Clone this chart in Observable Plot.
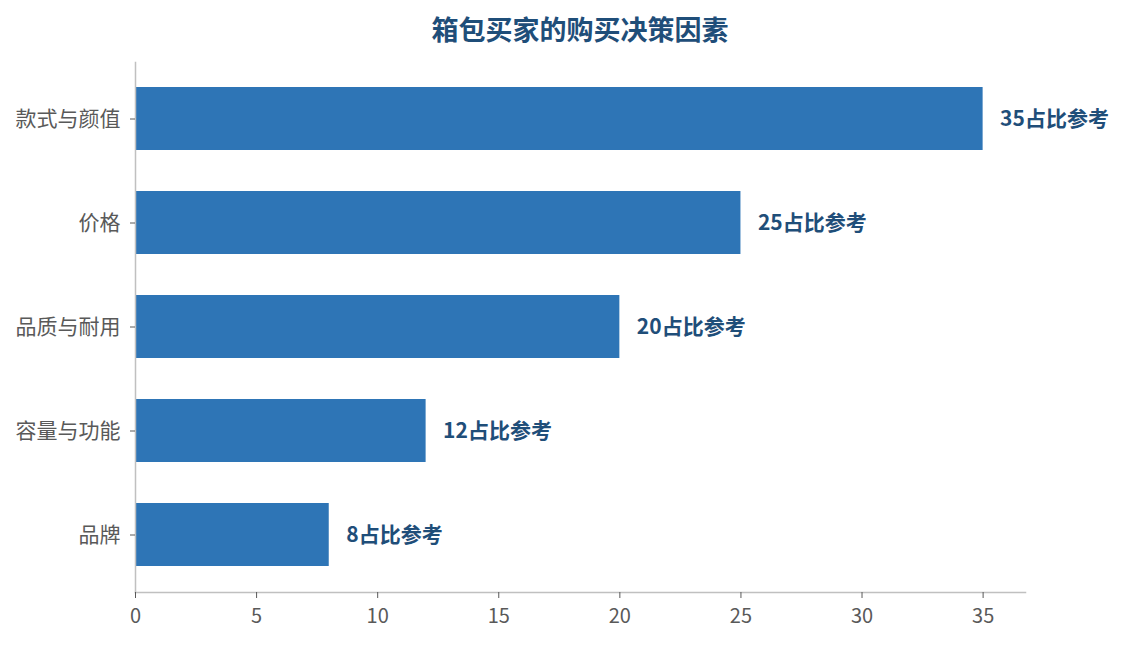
<!DOCTYPE html>
<html>
<head>
<meta charset="utf-8">
<script src="https://cdn.jsdelivr.net/npm/d3@7"></script>
<script src="https://cdn.jsdelivr.net/npm/@observablehq/plot@0.6"></script>
<style>
  body { margin: 0; background: #fff; font-family: "Noto Sans CJK SC", "Noto Sans", sans-serif; }
  #title { height: 48px; text-align: center; font-size: 27px; font-weight: bold; color: #1f4e79; line-height: 58px; margin-left: 135px; width: 890px; }
</style>
</head>
<body>
<div id="title">箱包买家的购买决策因素</div>
<div id="chart"></div>
<script>
const categories = ["款式与颜值", "价格", "品质与耐用", "容量与功能", "品牌"];
const values = [35, 25, 20, 12, 8];
const xTicks = [0, 5, 10, 15, 20, 25, 30, 35];
const labelSuffix = "占比参考";

const data = categories.map((c, i) => ({ category: c, value: values[i] }));

const chart = Plot.plot({
  width: 1124,
  height: 597,
  marginTop: 14,
  marginBottom: 53,
  marginLeft: 135,
  marginRight: 99,
  style: { fontFamily: '"Noto Sans CJK SC", "Noto Sans", sans-serif', background: "#fff" },
  x: { domain: [0, 36.75], ticks: xTicks, label: null },
  y: { domain: categories, paddingInner: 0.39, paddingOuter: 0.23, label: null },
  marks: [
    Plot.barX(data, { x: "value", y: "category", fill: "#2e75b6" }),
    Plot.text(data, {
      x: "value", y: "category",
      text: d => d.value + labelSuffix,
      textAnchor: "start", dx: 17,
      fill: "#1f4e79", fontWeight: "bold", fontSize: 21
    }),
    Plot.frame({ anchor: "left", stroke: "#c0c0c0", strokeWidth: 1.5 }),
    Plot.frame({ anchor: "bottom", stroke: "#c0c0c0", strokeWidth: 1.5 }),
    Plot.axisY({ tickSize: 5, tickPadding: 10, fontSize: 21, color: "#595959", stroke: "#595959" }),
    Plot.axisX({ ticks: xTicks, tickSize: 6, tickPadding: 10, fontSize: 20, color: "#595959", stroke: "#595959", tickFormat: d => String(d) })
  ]
});
document.getElementById("chart").appendChild(chart);
</script>
</body>
</html>
